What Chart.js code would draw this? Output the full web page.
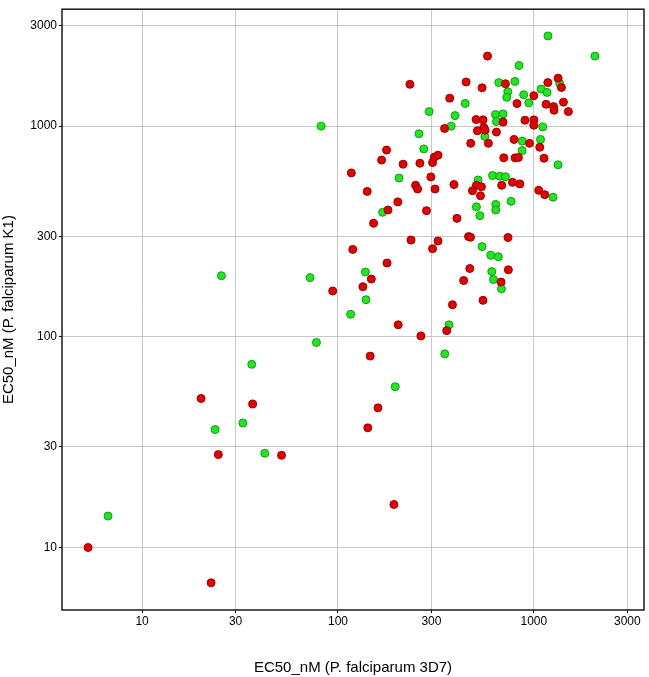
<!DOCTYPE html>
<html>
<head>
<meta charset="utf-8">
<script src="https://cdn.jsdelivr.net/npm/chart.js@4/dist/chart.umd.min.js"></script>
<style>
    body { margin: 0; background: #fff; }
    #wrap { width: 649px; height: 677px; position: relative; }
</style>
</head>
<body>
<div id="wrap"><canvas id="scatterChart"></canvas></div>
<script>
// EC50 values (nM)
const xTicks = [10, 30, 100, 300, 1000, 3000];
const yTicks = [10, 30, 100, 300, 1000, 3000];

const redX = [5.3, 22.5, 24.5, 20, 36.7, 51.5, 203, 146, 160, 142, 193, 177, 167, 117, 141, 202, 180, 152, 119, 178,
    148, 134, 94, 580, 233, 451, 544, 716, 1000, 820, 1178, 1330, 1383, 1154, 1260, 1268, 1416, 1500, 372, 350,
    215, 262, 304, 310, 324, 507, 550, 696, 555, 564, 515, 644, 476, 586, 901, 1000, 1000, 792, 950, 1072,
    702, 802, 834, 1127, 298, 249, 255, 313, 391, 509, 540, 486, 534, 685, 778, 848, 1059, 1137, 283, 405,
    236, 324, 304, 464, 475, 738, 471, 438, 680, 741, 550, 384, 265, 359];
const redY = [10, 6.8, 27.6, 51, 48, 27.4, 114, 81, 46, 37, 16, 770, 690, 600, 490, 437, 400, 346, 260, 224,
    188, 173, 165, 2150, 1580, 1620, 1520, 1590, 1395, 1280, 1610, 1690, 1526, 1270, 1238, 1190, 1300, 1172, 1358, 975,
    660, 667, 672, 712, 728, 1075, 1071, 1045, 986, 957, 951, 937, 829, 829, 1067, 1071, 1010, 865, 829, 794,
    707, 707, 710, 704, 574, 524, 503, 503, 528, 524, 515, 494, 467, 524, 541, 532, 496, 473, 397, 365,
    288, 285, 262, 299, 297, 296, 211, 185, 182, 208, 149, 142, 101, 107];

const greenX = [6.7, 23.6, 25.4, 32.7, 36.3, 42.3, 77.6, 72, 116, 138, 139, 196, 169, 82, 1180, 2050, 840, 662, 800, 736,
    727, 887, 942, 1088, 1168, 1355, 446, 292, 396, 378, 259, 274, 637, 696, 644, 562, 1110, 871, 1081, 871,
    1329, 205, 519, 615, 670, 716, 1253, 509, 530, 639, 639, 765, 544, 603, 659, 610, 622, 683, 369, 351];
const greenY = [14.1, 36.3, 195, 39, 74, 28, 94, 191, 128, 203, 150, 58, 390, 1000, 2680, 2150, 1940, 1610, 1630, 1456,
    1370, 1410, 1290, 1500, 1446, 1594, 1282, 1172, 1122, 1000, 920, 780, 1135, 1143, 1052, 894, 992, 849, 865, 766,
    655, 567, 555, 583, 579, 575, 460, 414, 376, 425, 400, 440, 268, 244, 240, 204, 187, 169, 114, 83];

const FONT = "'Liberation Sans', Arial, sans-serif";

function toPoints(xs, ys) {
    return xs.map((x, i) => ({ x: x, y: ys[i] }));
}

// black frame round the plot area
const frame = {
    id: 'frame',
    afterDraw(chart) {
        const { ctx, chartArea: a } = chart;
        ctx.save();
        ctx.strokeStyle = '#1a1a1a';
        ctx.lineWidth = 1.5;
        ctx.strokeRect(a.left, a.top, a.right - a.left, a.bottom - a.top);
        ctx.restore();
    }
};

function logAxis(min, max, ticks, title, isX) {
    return {
        type: 'logarithmic',
        min: min,
        max: max,
        afterBuildTicks: (scale) => { scale.ticks = ticks.map(v => ({ value: v })); },
        afterFit: (scale) => {
            if (isX) scale.height = 67; else scale.width = 62;
        },
        border: { display: false },
        grid: { color: '#c8c8c8', lineWidth: 1, tickLength: 3, tickColor: '#111' },
        ticks: {
            autoSkip: false,
            maxRotation: 0,
            padding: isX ? 1 : 2,
            color: '#000',
            font: { family: FONT, size: 12 },
            callback: (v) => String(v)
        },
        title: {
            display: true,
            text: title,
            color: '#000',
            font: { family: FONT, size: 15 },
            padding: { top: 0, bottom: 0 }
        }
    };
}

document.addEventListener('DOMContentLoaded', () => {
    const ctx = document.getElementById('scatterChart').getContext('2d');
    new Chart(ctx, {
        type: 'scatter',
        data: {
            datasets: [
                {
                    label: 'red',
                    data: toPoints(redX, redY),
                    backgroundColor: '#e60000',
                    borderColor: '#9a0000',
                    borderWidth: 1,
                    pointRadius: 4
                },
                {
                    label: 'green',
                    data: toPoints(greenX, greenY),
                    backgroundColor: '#1ee81e',
                    borderColor: '#149a14',
                    borderWidth: 1,
                    pointRadius: 4
                }
            ]
        },
        options: {
            responsive: true,
            maintainAspectRatio: false,
            animation: false,
            layout: { padding: { top: 4, right: 5, left: 0, bottom: 0 } },
            plugins: { legend: { display: false }, tooltip: { enabled: false } },
            scales: {
                x: logAxis(3.9, 3650, xTicks, 'EC50_nM (P. falciparum 3D7)', true),
                y: logAxis(5.05, 3590, yTicks, 'EC50_nM (P. falciparum K1)', false)
            }
        },
        plugins: [frame]
    });
});
</script>
</body>
</html>
